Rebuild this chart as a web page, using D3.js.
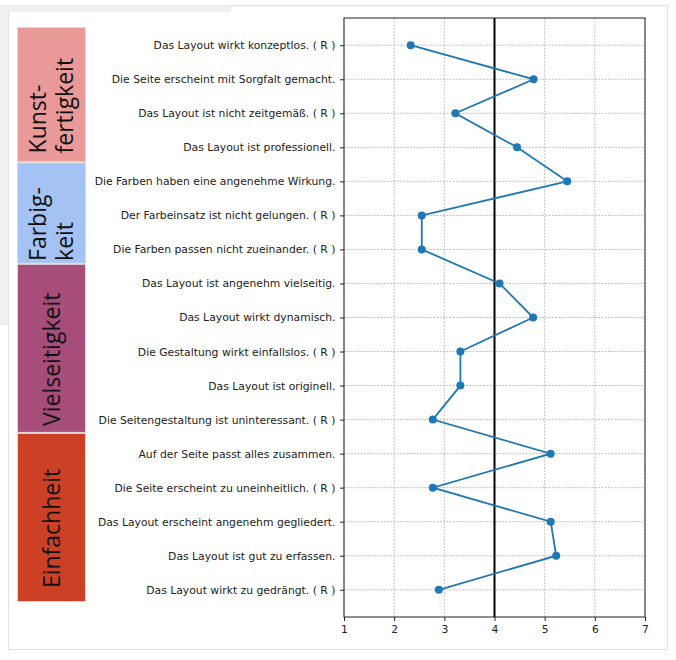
<!DOCTYPE html>
<html><head><meta charset="utf-8">
<script src="https://cdn.jsdelivr.net/npm/d3@7"></script>
<style>body{margin:0;background:#fff}svg{display:block}</style>
</head><body>
<script>
const items = [
  "Das Layout wirkt konzeptlos. ( R )",
  "Die Seite erscheint mit Sorgfalt gemacht.",
  "Das Layout ist nicht zeitgemäß. ( R )",
  "Das Layout ist professionell.",
  "Die Farben haben eine angenehme Wirkung.",
  "Der Farbeinsatz ist nicht gelungen. ( R )",
  "Die Farben passen nicht zueinander. ( R )",
  "Das Layout ist angenehm vielseitig.",
  "Das Layout wirkt dynamisch.",
  "Die Gestaltung wirkt einfallslos. ( R )",
  "Das Layout ist originell.",
  "Die Seitengestaltung ist uninteressant. ( R )",
  "Auf der Seite passt alles zusammen.",
  "Die Seite erscheint zu uneinheitlich. ( R )",
  "Das Layout erscheint angenehm gegliedert.",
  "Das Layout ist gut zu erfassen.",
  "Das Layout wirkt zu gedrängt. ( R )"
];
const values = [2.33, 4.78, 3.22, 4.45, 5.45, 2.55, 2.55, 4.10, 4.77, 3.32, 3.32, 2.77, 5.12, 2.77, 5.12, 5.23, 2.89];
const categories = [["Kunst-", "fertigkeit"], ["Farbig-", "keit"], ["Vielseitigkeit"], ["Einfachheit"]];
const categoryCounts = [4, 3, 5, 5];
const categoryColors = ["#EA9999", "#A4C2F4", "#A64D79", "#CC4125"];
const xTicks = [1, 2, 3, 4, 5, 6, 7];
const midpoint = 4;

const W = 676, H = 660;
const svg = d3.select("body").append("svg").attr("width", W).attr("height", H);

// frame / background artifacts
svg.append("rect").attr("x", 8.5).attr("y", 5.5).attr("width", 659).attr("height", 644)
  .attr("fill", "#fff").attr("stroke", "#e2e2e2");
svg.append("rect").attr("x", 0).attr("y", 5).attr("width", 231).attr("height", 7).attr("fill", "#f0f0f0");
svg.append("rect").attr("x", 0).attr("y", 5).attr("width", 8).attr("height", 320).attr("fill", "#f0f0f0");

const L = 344, R = 645, T = 18, B = 617;
const x = d3.scaleLinear().domain([1, 7]).range([L, R]);
const y = d3.scalePoint().domain(items).range([T, B]).padding(0.8);

// grid
const g = svg.append("g");
g.selectAll(".gx").data(xTicks).join("line")
  .attr("x1", d => x(d)).attr("x2", d => x(d)).attr("y1", T).attr("y2", B)
  .attr("stroke", "#b0b0b0").attr("stroke-width", 0.8).attr("stroke-dasharray", "2,1.3");
g.selectAll(".gy").data(items).join("line")
  .attr("x1", L).attr("x2", R).attr("y1", d => y(d)).attr("y2", d => y(d))
  .attr("stroke", "#b0b0b0").attr("stroke-width", 0.8).attr("stroke-dasharray", "2,1.3");

// midpoint line
svg.append("line").attr("x1", x(midpoint)).attr("x2", x(midpoint)).attr("y1", T).attr("y2", B)
  .attr("stroke", "#000").attr("stroke-width", 2);

// axes
const font = "DejaVu Sans";
const yAxis = svg.append("g").attr("transform", `translate(${L},0)`)
  .call(d3.axisLeft(y).tickSize(4).tickPadding(4.5));
const xAxis = svg.append("g").attr("transform", `translate(0,${B})`)
  .call(d3.axisBottom(x).tickValues(xTicks).tickFormat(d3.format("d")).tickSize(4).tickPadding(4));
[yAxis, xAxis].forEach(a => {
  a.select(".domain").remove();
  a.selectAll("text").attr("font-family", font).attr("font-size", 10.8).attr("fill", "#222");
  a.selectAll("line").attr("stroke", "#222");
});
svg.append("rect").attr("x", L).attr("y", T).attr("width", R - L).attr("height", B - T)
  .attr("fill", "none").attr("stroke", "#222").attr("stroke-width", 1);

// line and markers
const line = d3.line().x(d => x(d[1])).y(d => y(d[0]));
const pts = items.map((d, i) => [d, values[i]]);
svg.append("path").datum(pts).attr("d", line).attr("fill", "none")
  .attr("stroke", "#1f77b4").attr("stroke-width", 1.8);
svg.selectAll(".pt").data(pts).join("circle")
  .attr("cx", d => x(d[1])).attr("cy", d => y(d[0])).attr("r", 4).attr("fill", "#1f77b4");

// category panels
const boxX0 = 17, boxX1 = 86, boxT = 27, boxB = 602;
const total = d3.sum(categoryCounts);
const cum = d3.cumsum([0, ...categoryCounts]);
const yb = d3.scaleLinear().domain([0, total]).range([boxT, boxB]);
categories.forEach((lines, i) => {
  const y0 = yb(cum[i]), y1 = yb(cum[i + 1]);
  svg.append("rect").attr("x", boxX0 + 0.5).attr("y", y0 + 0.5).attr("width", boxX1 - boxX0 - 1).attr("height", y1 - y0 - 1)
    .attr("fill", categoryColors[i]).attr("stroke", "#dcdcdc").attr("stroke-width", 1);
  const cx = (boxX0 + boxX1) / 2, cy = (y0 + y1) / 2 + 11;
  const t = svg.append("text").attr("font-family", "Open Sans").attr("font-size", 23).attr("fill", "#111");
  const lh = 26.5;
  const n = lines.length;
  lines.forEach((s, k) => {
    t.append("tspan").attr("data-k", k).text(s);
  });
  let maxLen = 0;
  t.selectAll("tspan").each(function () { maxLen = Math.max(maxLen, this.getComputedTextLength()); });
  t.attr("transform", `translate(${cx},${cy + maxLen / 2}) rotate(-90)`);
  t.selectAll("tspan").attr("x", 0).attr("y", function () {
    const k = +this.getAttribute("data-k");
    return (n === 1 ? 8 : (k - (n - 1) / 2) * lh + 8);
  });
});
</script>
</body></html>
